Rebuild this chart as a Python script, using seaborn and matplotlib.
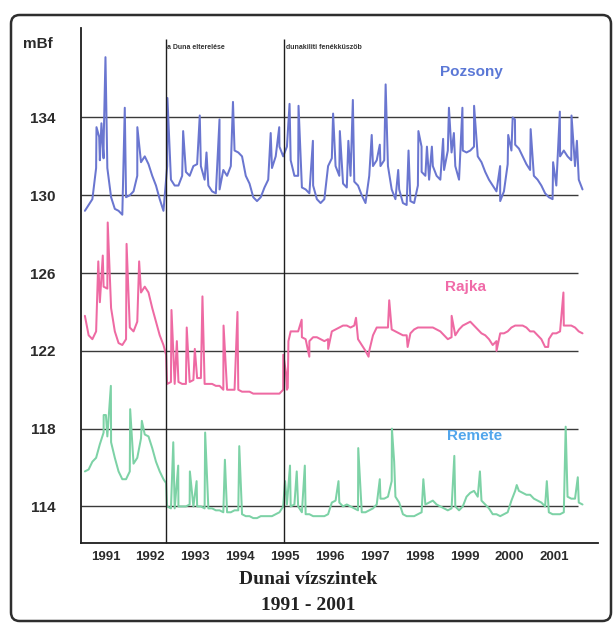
import numpy as np
import pandas as pd
import matplotlib
matplotlib.use("Agg")
import matplotlib.pyplot as plt
from matplotlib.patches import FancyBboxPatch
import seaborn as sns

# Monthly mean water levels (mBf), January 1991 .. February 2002
first_year = 1991
pozsony = [
    129.2, 129.5, 129.8, 131.4, 131.8, 131.9, 131.4, 129.9, 129.3, 129.2, 129.0, 129.9,
    130.0, 130.2, 131.0, 131.7, 132.0, 131.6, 131.0, 130.5, 129.8, 129.2, 131.5, 130.8,
    130.5, 130.5, 131.0, 131.2, 131.0, 131.5, 131.6, 131.5, 130.8, 130.5, 130.2, 130.1,
    130.3, 131.3, 131.0, 131.5, 132.3, 132.2, 132.0, 131.0, 130.6, 129.9, 129.7, 129.9,
    130.4, 130.8, 131.4, 132.0, 132.5, 132.0, 132.5, 131.8, 131.0, 131.0, 130.4, 130.3,
    130.1, 130.5, 129.8, 129.6, 129.8, 131.5, 131.9, 131.5, 131.0, 130.6, 130.4, 131.0,
    130.7, 130.5, 130.0, 129.6, 131.0, 131.5, 131.8, 131.5, 131.8, 131.5, 130.3, 129.8,
    130.3, 129.6, 129.5, 129.7, 129.6, 130.5, 131.2, 131.0, 130.8, 131.5, 131.0, 130.8,
    131.3, 132.3, 132.2, 131.5, 130.8, 132.3, 132.2, 132.3, 132.5, 132.0, 131.7, 131.2,
    130.8, 130.5, 130.2, 129.7, 130.2, 131.6, 132.3, 132.6, 132.4, 132.0, 131.6, 131.3,
    131.0, 130.8, 130.5, 130.1, 129.9, 129.8, 130.5, 132.0, 132.3, 132.0, 131.8, 131.5,
    130.8, 130.3,
]
rajka = [
    123.8, 122.8, 122.6, 123.0, 124.5, 125.3, 125.2, 124.2, 123.0, 122.4, 122.3, 122.6,
    123.2, 123.0, 123.5, 125.0, 125.3, 125.0, 124.2, 123.5, 122.8, 122.3, 120.3, 120.4,
    120.3, 120.4, 120.3, 120.3, 120.4, 120.5, 120.6, 120.6, 120.3, 120.3, 120.3, 120.2,
    120.2, 120.0, 120.0, 120.0, 120.0, 120.0, 119.9, 119.9, 119.9, 119.8, 119.8, 119.8,
    119.8, 119.8, 119.8, 119.8, 119.8, 120.0, 120.0, 123.0, 123.0, 123.0, 122.7, 122.6,
    122.5, 122.7, 122.7, 122.6, 122.5, 122.6, 123.0, 123.1, 123.2, 123.3, 123.3, 123.2,
    123.3, 122.6, 122.3, 122.0, 122.0, 122.8, 123.2, 123.2, 123.2, 123.2, 123.1, 123.0,
    122.9, 122.8, 122.8, 122.9, 123.1, 123.2, 123.2, 123.2, 123.2, 123.2, 123.1, 123.0,
    122.8, 122.6, 122.7, 122.8, 123.1, 123.3, 123.4, 123.5, 123.3, 123.1, 122.9, 122.8,
    122.6, 122.3, 122.5, 122.9, 122.9, 123.0, 123.2, 123.3, 123.3, 123.3, 123.2, 123.0,
    123.0, 122.8, 122.6, 122.2, 122.6, 122.9, 122.9, 123.0, 123.3, 123.3, 123.3, 123.2,
    123.0, 122.9,
]
remete = [
    115.8, 115.9, 116.3, 116.5, 117.2, 117.8, 117.6, 117.3, 116.5, 115.8, 115.4, 115.4,
    115.8, 116.2, 116.5, 117.5, 117.7, 117.6, 117.0, 116.3, 115.8, 115.4, 114.0, 113.9,
    113.9, 114.0, 114.0, 114.0, 114.1, 114.0, 114.0, 114.0, 113.9, 113.9, 113.9, 113.8,
    113.8, 113.7, 113.7, 113.7, 113.8, 113.8, 113.6, 113.5, 113.5, 113.4, 113.4, 113.5,
    113.5, 113.5, 113.5, 113.6, 113.7, 114.0, 114.1, 114.0, 114.1, 114.0, 113.7, 113.6,
    113.6, 113.5, 113.5, 113.5, 113.5, 113.6, 114.2, 114.3, 114.2, 114.0, 114.1, 114.0,
    113.9, 113.8, 113.7, 113.7, 113.8, 113.9, 114.1, 114.4, 114.4, 114.5, 115.3, 114.5,
    114.2, 113.6, 113.5, 113.5, 113.5, 113.6, 113.7, 114.1, 114.2, 114.3, 114.1, 114.0,
    113.9, 113.8, 113.9, 114.0, 113.8, 114.0, 114.5, 114.7, 114.8, 114.5, 114.3, 114.1,
    113.9, 113.6, 113.6, 113.5, 113.6, 113.7, 114.3, 114.8, 114.8, 114.7, 114.6, 114.6,
    114.4, 114.3, 114.2, 114.0, 113.7, 113.6, 113.6, 113.6, 113.7, 114.5, 114.4, 114.4,
    114.2, 114.1,
]

# Flood peaks and abrupt changes between the monthly values (decimal year, mBf)
pozsony_peaks_t = [1991.30, 1991.36, 1991.41, 1991.46, 1991.50, 1991.93, 1992.21, 1992.88,
                   1993.23, 1993.60, 1993.75, 1994.04, 1994.34, 1995.18, 1995.37, 1995.60,
                   1995.80, 1996.12, 1996.57, 1996.72, 1996.91, 1997.01, 1997.43, 1997.61,
                   1997.74, 1998.02, 1998.25, 1998.47, 1998.54, 1998.66, 1998.77, 1999.02,
                   1999.15, 1999.26, 1999.45, 1999.71, 2000.29, 2000.47, 2000.57, 2000.62,
                   2000.97, 2001.47, 2001.62, 2001.88, 2002.00]
pozsony_peaks_v = [133.5, 133.0, 133.7, 132.8, 137.1, 134.5, 133.5, 135.0,
                   133.3, 134.1, 132.2, 133.9, 134.8, 133.2, 133.5, 134.7,
                   134.6, 132.8, 134.2, 133.3, 132.8, 134.9, 133.1, 132.6,
                   135.7, 131.3, 132.3, 133.3, 132.5, 132.5, 132.5, 132.9,
                   134.5, 133.2, 134.5, 134.6, 131.5, 133.1, 134.0, 133.9,
                   133.4, 131.7, 134.3, 134.1, 132.8]

rajka_peaks_t = [1991.34, 1991.44, 1991.55, 1991.97, 1992.25, 1992.85, 1992.87, 1992.97,
                 1993.09, 1993.31, 1993.49, 1993.66, 1994.13, 1994.44, 1995.46, 1995.52,
                 1995.56, 1995.575, 1995.87, 1996.04, 1996.46, 1997.08, 1997.36, 1997.82,
                 1998.23, 1999.21, 2000.21, 2001.36, 2001.70]
rajka_peaks_v = [126.6, 126.9, 128.6, 127.5, 126.6, 121.8, 120.4, 124.1,
                 122.5, 123.2, 122.1, 124.8, 123.3, 124.0, 121.8, 120.9,
                 120.1, 122.5, 123.6, 121.7, 122.1, 123.7, 121.7, 124.6,
                 122.2, 123.8, 122.0, 122.2, 125.0]

remete_peaks_t = [1991.46, 1991.51, 1991.62, 1992.05, 1992.31, 1992.85, 1992.87, 1993.01,
                  1993.12, 1993.38, 1993.53, 1993.72, 1994.16, 1994.48, 1995.50, 1995.61,
                  1995.76, 1995.94, 1996.69, 1997.13, 1997.61, 1997.88, 1997.93, 1998.58,
                  1999.27, 1999.84, 2000.66, 2001.33, 2001.75, 2002.02]
remete_peaks_v = [118.7, 118.7, 120.2, 119.0, 118.4, 115.2, 114.0, 117.3,
                  116.1, 115.8, 115.3, 117.8, 116.4, 117.1, 115.3, 116.1,
                  115.8, 116.1, 115.3, 117.0, 115.4, 118.0, 116.3, 115.4,
                  116.6, 115.8, 115.1, 115.3, 118.1, 115.5]

stations = ["Pozsony", "Rajka", "Remete"]
colors = {"Pozsony": "#6a76d0", "Rajka": "#ee6aa3", "Remete": "#7dd2a6"}
label_colors = {"Pozsony": "#5b78d6", "Rajka": "#f06aa8", "Remete": "#52a6ec"}
y_ticks = [114, 118, 122, 126, 130, 134]
year_labels = [str(y) for y in range(1991, 2002)]

events_t = [1992.85, 1995.48]
events_text = ["a Duna elterelése", "dunakiliti fenékküszöb"]


def station_frame(name, monthly, peak_t, peak_v):
    t = first_year + (np.arange(len(monthly)) + 0.5) / 12.0
    df = pd.DataFrame({
        "t": np.concatenate([t, peak_t]),
        "level": np.concatenate([monthly, peak_v]),
    })
    df["station"] = name
    return df.sort_values("t")


data = pd.concat([
    station_frame("Pozsony", pozsony, pozsony_peaks_t, pozsony_peaks_v),
    station_frame("Rajka", rajka, rajka_peaks_t, rajka_peaks_v),
    station_frame("Remete", remete, remete_peaks_t, remete_peaks_v),
], ignore_index=True)

sns.set_style("white")
plt.rcParams["font.family"] = ["Liberation Sans", "DejaVu Sans"]

W, H = 615, 626
fig = plt.figure(figsize=(W / 100, H / 100), dpi=100)
fig.patch.set_facecolor("white")
ax = fig.add_axes([81 / W, 1 - 543 / H, (598 - 81) / W, (543 - 28) / H])

x0, x1 = 1990.955, 2002.47
y0, y1 = 112.12, 138.6

# reference levels
ax.hlines(y_ticks, x0, 2002.02, colors="#3a3a3a", lw=1.0, zorder=1)

sns.lineplot(data=data, x="t", y="level", hue="station", palette=colors,
             hue_order=stations, estimator=None, sort=True, lw=1.45,
             legend=False, ax=ax, zorder=3)

# interventions on the Danube
for t, txt in zip(events_t, events_text):
    ax.vlines(t, y0, 138.05, colors="#1e1e1e", lw=1.0, zorder=4, clip_on=False)
    ax.text(t + 0.03, 137.62, txt, fontsize=5, fontweight="bold",
            color="#333333", ha="left", va="center")

# station names
ax.text(1999.64, 136.34, "Pozsony", color=label_colors["Pozsony"],
        fontsize=11, fontweight="bold", ha="center", va="center")
ax.text(1999.51, 125.29, "Rajka", color=label_colors["Rajka"],
        fontsize=11, fontweight="bold", ha="center", va="center")
ax.text(1999.73, 117.64, "Remete", color=label_colors["Remete"],
        fontsize=11, fontweight="bold", ha="center", va="center", zorder=5)

ax.set_xlim(x0, x1)
ax.set_ylim(y0, y1)
ax.set_xlabel("")
ax.set_ylabel("")

for side in ["top", "right"]:
    ax.spines[side].set_visible(False)
for side in ["left", "bottom"]:
    ax.spines[side].set_color("#1e1e1e")
    ax.spines[side].set_linewidth(1.3)

ax.set_yticks(y_ticks)
ax.set_yticklabels([str(v) for v in y_ticks], fontsize=11, fontweight="bold",
                   color="#2b2b2b")
ax.tick_params(axis="y", direction="out", length=6.5, width=1.0,
               color="#3a3a3a", pad=12)

ax.set_xticks(np.arange(1992, 2002))
ax.set_xticklabels([])
ax.set_xticks(np.arange(1991, 2002) + 0.5, minor=True)
ax.set_xticklabels(year_labels, minor=True, fontsize=9.5, fontweight="bold",
                   color="#2b2b2b")
ax.tick_params(axis="x", which="major", direction="out", length=7,
               width=1.0, color="#3a3a3a")
ax.tick_params(axis="x", which="minor", length=0, pad=6)

fig.text(38 / W, 1 - 44 / H, "mBf", fontsize=11, fontweight="bold",
         color="#2b2b2b", ha="center", va="center")

fig.text(308 / W, 1 - 580 / H, "Dunai vízszintek", fontsize=14,
         fontweight="bold", family=["Liberation Serif", "DejaVu Serif"],
         color="#222222", ha="center", va="center")
fig.text(308 / W, 1 - 606 / H, "1991 - 2001", fontsize=14,
         fontweight="bold", family=["Liberation Serif", "DejaVu Serif"],
         color="#222222", ha="center", va="center")

frame = FancyBboxPatch((11 / W, 1 - 621 / H), (611 - 11) / W, (621 - 15) / H,
                       boxstyle="round,pad=0,rounding_size=0.014",
                       transform=fig.transFigure, fill=False,
                       edgecolor="#2e2e2e", lw=1.8, zorder=10)
fig.patches.append(frame)

fig.savefig("out.png", dpi=100, facecolor="white")
